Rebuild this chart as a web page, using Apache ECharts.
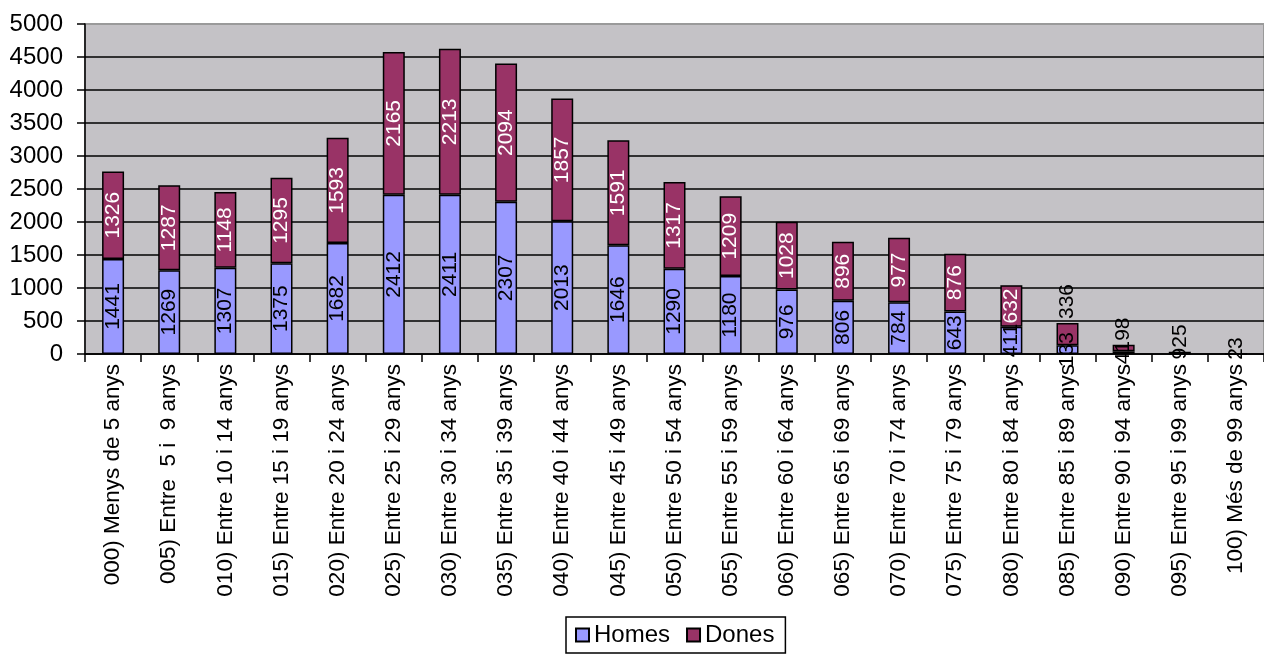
<!DOCTYPE html>
<html>
<head>
<meta charset="utf-8">
<script src="https://cdn.jsdelivr.net/npm/echarts@6/dist/echarts.min.js"></script>
<style>
html,body{margin:0;padding:0;background:#fff;}
#chart{width:1264px;height:656px;}
</style>
</head>
<body>
<div id="chart"></div>
<script>
const categories = [
  "000) Menys de 5 anys",
  "005) Entre  5 i  9 anys",
  "010) Entre 10 i 14 anys",
  "015) Entre 15 i 19 anys",
  "020) Entre 20 i 24 anys",
  "025) Entre 25 i 29 anys",
  "030) Entre 30 i 34 anys",
  "035) Entre 35 i 39 anys",
  "040) Entre 40 i 44 anys",
  "045) Entre 45 i 49 anys",
  "050) Entre 50 i 54 anys",
  "055) Entre 55 i 59 anys",
  "060) Entre 60 i 64 anys",
  "065) Entre 65 i 69 anys",
  "070) Entre 70 i 74 anys",
  "075) Entre 75 i 79 anys",
  "080) Entre 80 i 84 anys",
  "085) Entre 85 i 89 anys",
  "090) Entre 90 i 94 anys",
  "095) Entre 95 i 99 anys",
  "100) Més de 99 anys"
];
const homes = [1441,1269,1307,1375,1682,2412,2411,2307,2013,1646,1290,1180,976,806,784,643,411,133,41,9,2];
const dones = [1326,1287,1148,1295,1593,2165,2213,2094,1857,1591,1317,1209,1028,896,977,876,632,336,98,25,3];
const yTicks = {min:0, max:5000, interval:500};

const FONT = "'Liberation Sans', Arial, sans-serif";

// Dones labels: centred inside in white; small segments get their label placed above, in black
const donesData = dones.map(v => v < 400
  ? {value:v, label:{position:'top', align:'left', verticalAlign:'middle', distance:4, color:'#000'}}
  : v);

const chart = echarts.init(document.getElementById('chart'), null, {renderer:'canvas'});
chart.setOption({
  animation:false,
  backgroundColor:'#ffffff',
  grid:{left:85, right:0, top:24, bottom:302, show:true, backgroundColor:'#c4c2c6', borderColor:'#9a9a9a', borderWidth:2},
  legend:{
    left:566, top:617,
    data:['Homes','Dones'],
    icon:'rect', itemWidth:13, itemHeight:13, itemGap:16,
    padding:[6,11,6,9],
    borderColor:'#000', borderWidth:1.5,
    textStyle:{fontFamily:FONT, fontSize:24, color:'#000'}
  },
  xAxis:{
    type:'category',
    data:categories,
    axisLine:{lineStyle:{color:'#000', width:1.5}},
    axisTick:{show:true, length:8, lineStyle:{color:'#000', width:1.5}},
    axisLabel:{rotate:90, fontFamily:FONT, fontSize:22.5, color:'#000', margin:10, interval:0}
  },
  yAxis:{
    type:'value',
    min:yTicks.min, max:yTicks.max, interval:yTicks.interval,
    axisLine:{show:true, lineStyle:{color:'#000', width:1.5}},
    axisTick:{show:true, length:8, lineStyle:{color:'#000', width:1.5}},
    axisLabel:{fontFamily:FONT, fontSize:24, color:'#000', margin:22, formatter:v => String(v)},
    splitLine:{show:true, showMaxLine:false, lineStyle:{color:'#000', width:1.5}}
  },
  series:[
    {
      name:'Homes', type:'bar', stack:'total', data:homes, barWidth:22,
      itemStyle:{color:'#9999ff', borderColor:'#000', borderWidth:1.5},
      label:{show:true, position:'inside', rotate:90, fontFamily:FONT, fontSize:21, color:'#000'}
    },
    {
      name:'Dones', type:'bar', stack:'total', data:donesData, barWidth:22,
      itemStyle:{color:'#993366', borderColor:'#000', borderWidth:1.5},
      label:{show:true, position:'inside', rotate:90, fontFamily:FONT, fontSize:21, color:'#fff'}
    }
  ]
});
</script>
</body>
</html>
